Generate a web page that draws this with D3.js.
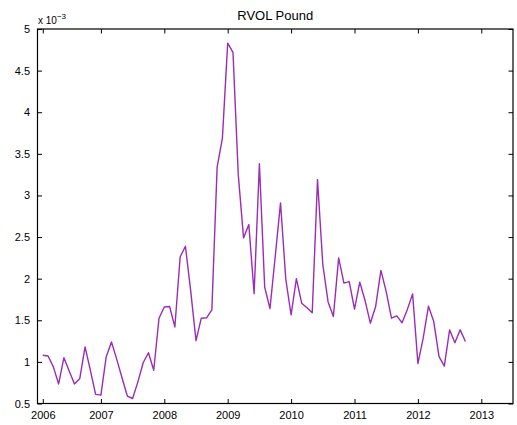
<!DOCTYPE html>
<html>
<head>
<meta charset="utf-8">
<script src="https://cdn.jsdelivr.net/npm/d3@7"></script>
<style>
  html, body { margin: 0; padding: 0; background: #fff; }
  svg { display: block; font-family: "Liberation Sans", Arial, Helvetica, sans-serif; }
</style>
</head>
<body>
<svg id="chart" width="517" height="425"></svg>
<script>
// Monthly realized volatility of the pound, in units of 1e-3 (Jan 2006 onward)
const rvol = [
  1.08, 1.07, 0.94, 0.735, 1.05, 0.89, 0.735, 0.80, 1.18, 0.90,
  0.61, 0.60, 1.06, 1.24, 1.03, 0.81, 0.59, 0.56, 0.76, 0.99,
  1.11, 0.90, 1.525, 1.66, 1.665, 1.42, 2.26, 2.39, 1.85, 1.256,
  1.525, 1.53, 1.625, 3.34, 3.69, 4.83, 4.72, 3.25, 2.49, 2.65,
  1.82, 3.38, 1.90, 1.64, 2.27, 2.91, 1.99, 1.565, 2.0, 1.705,
  1.65, 1.59, 3.19, 2.17, 1.72, 1.545, 2.25, 1.946, 1.965, 1.633,
  1.958, 1.737, 1.465, 1.665, 2.10, 1.845, 1.525, 1.553, 1.47, 1.63,
  1.817, 0.98, 1.285, 1.67, 1.485, 1.064, 0.95, 1.385, 1.23, 1.385,
  1.244
];
// Observation number of each month (1-based)
const obs = rvol.map((_, i) => i + 1);

const xTickPos = [1, 12, 24, 36, 48, 60, 72, 84];
const xTickLabels = ["2006", "2007", "2008", "2009", "2010", "2011", "2012", "2013"];
const yTicks = [0.5, 1, 1.5, 2, 2.5, 3, 3.5, 4, 4.5, 5];
const yTickLabels = ["0.5", "1", "1.5", "2", "2.5", "3", "3.5", "4", "4.5", "5"];

const plotL = 37.5, plotR = 513, plotT = 29, plotB = 403.5;
const x = d3.scaleLinear().domain([0, 90]).range([plotL, plotR]);
const y = d3.scaleLinear().domain([0.5, 5]).range([plotB, plotT]);

const svg = d3.select("#chart");
const tickLen = 4.5;

// data line
svg.append("path")
  .datum(obs)
  .attr("fill", "none")
  .attr("stroke", "#9a2cb8")
  .attr("stroke-width", 1.4)
  .attr("stroke-linejoin", "round")
  .attr("d", d3.line().x(d => x(d)).y((d, i) => y(rvol[i])));

// axes with inward ticks on all four sides
const xBottom = d3.axisBottom(x).tickValues(xTickPos)
  .tickFormat((d, i) => xTickLabels[i]).tickSizeInner(-tickLen).tickSizeOuter(0).tickPadding(tickLen + 3);
const xTop = d3.axisTop(x).tickValues(xTickPos).tickFormat("").tickSizeInner(-tickLen).tickSizeOuter(0);
const yLeft = d3.axisLeft(y).tickValues(yTicks)
  .tickFormat((d, i) => yTickLabels[i]).tickSizeInner(-tickLen).tickSizeOuter(0).tickPadding(tickLen + 3);
const yRight = d3.axisRight(y).tickValues(yTicks).tickFormat("").tickSizeInner(-tickLen).tickSizeOuter(0);

function style(g) {
  g.select(".domain").remove();
  g.selectAll(".tick line").attr("stroke", "#000").attr("stroke-width", 1);
  g.selectAll(".tick text").attr("fill", "#000").attr("font-size", 11)
    .attr("font-family", "'Liberation Sans', Arial, sans-serif");
}

svg.append("g").attr("transform", `translate(0,${plotB})`).call(xBottom).call(style);
svg.append("g").attr("transform", `translate(0,${plotT})`).call(xTop).call(style);
svg.append("g").attr("transform", `translate(${plotL},0)`).call(yLeft).call(style);
svg.append("g").attr("transform", `translate(${plotR},0)`).call(yRight).call(style);

// axis box
svg.append("rect")
  .attr("x", plotL).attr("y", plotT)
  .attr("width", plotR - plotL).attr("height", plotB - plotT)
  .attr("fill", "none").attr("stroke", "#000").attr("stroke-width", 1.2);

// exponent label
const expo = svg.append("text").attr("x", 38).attr("y", 24)
  .attr("font-size", 10).attr("fill", "#000");
expo.append("tspan").text("x 10");
expo.append("tspan").attr("dy", -5).attr("font-size", 8).text("\u22123");

// title
svg.append("text")
  .attr("x", (plotL + plotR) / 2).attr("y", 20)
  .attr("text-anchor", "middle")
  .attr("font-size", 13).attr("fill", "#000")
  .text("RVOL Pound");
</script>
</body>
</html>
